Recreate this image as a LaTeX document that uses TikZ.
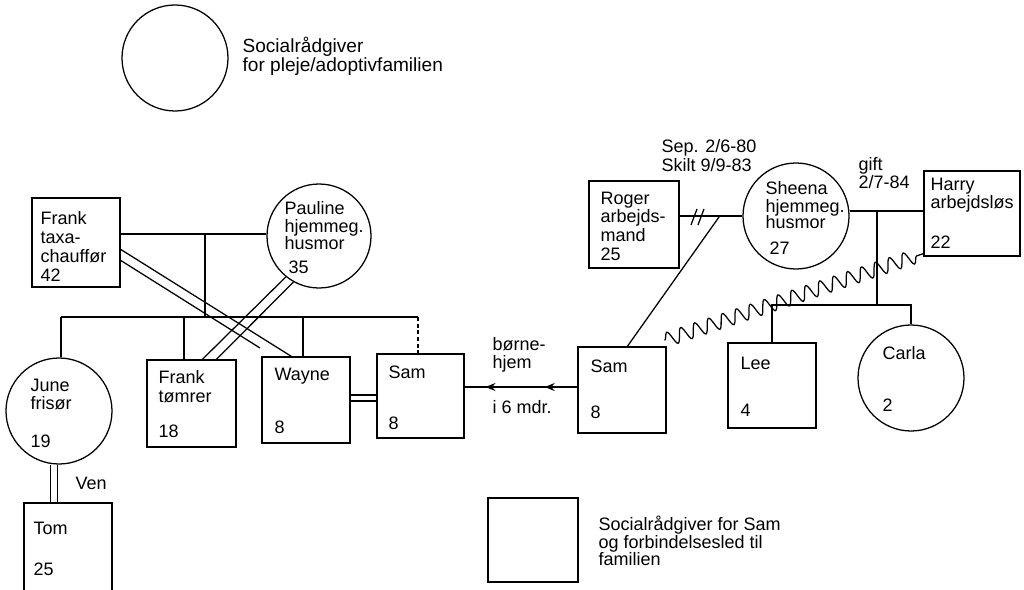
\documentclass[tikz,border=0pt]{standalone}
\usepackage{fontspec}
\setmainfont{Liberation Sans}
\usetikzlibrary{calc,fit,arrows.meta,decorations.pathmorphing,decorations.markings}
\begin{document}
\begin{tikzpicture}[x=0.75pt,y=-0.75pt, line width=0.95pt,
  box/.style={draw, rectangle, inner sep=0pt},
  circ/.style={draw, circle, inner sep=0pt, minimum size=#1*1.5pt},
  lbl/.style={inner sep=0pt, anchor=base west, font=\fontsize{13.5}{16}\selectfont},
  biglbl/.style={lbl, font=\fontsize{14.3}{17}\selectfont},
  dbl/.style={double, double distance=#1},
  wave/.style={decorate, decoration={snake, segment length=11pt, amplitude=5.3pt}},
  twoarrows/.style={postaction={decorate}, decoration={markings,
     mark=at position 0.29 with {\arrow{Stealth[length=7.5pt,width=6pt,inset=2.5pt]}},
     mark=at position 0.815 with {\arrow{Stealth[length=7.5pt,width=6pt,inset=2.5pt]}}}}]
\useasboundingbox (0,0) rectangle (1024,589);

% legend top
\node[circ=53] (socA) at (175,58) {};
\node[biglbl] (socAt1) at (242,52) {Socialrådgiver};
\node[biglbl] (socAt2) at (242,71) {for pleje/adoptivfamilien};

% persons
\node[box, fit={(32,198) (120,287)}] (frank) {};
\node[circ=52] (pauline) at (319,236) {};
\node[circ=53] (june) at (59,411) {};
\node[box, fit={(147,360) (236,447)}] (ftom) {};
\node[box, fit={(262,357) (350,443)}] (wayne) {};
\node[box, fit={(377,354) (464,438)}] (samL) {};
\node[box, fit={(24,503) (112,600)}] (tom) {};
\node[box, fit={(578,347) (666,433)}] (samR) {};
\node[box, fit={(728,343) (816,428)}] (lee) {};
\node[circ=53] (carla) at (911,378) {};
\node[box, fit={(589,181) (679,268)}] (roger) {};
\node[circ=53] (sheena) at (796,216) {};
\node[box, fit={(924,171) (1020,256)}] (harry) {};
\node[box, fit={(488,498) (578,582)}] (socB) {};

% texts
\node[lbl] (t1) at (40,224) {Frank};
\node[lbl] (t2) at (40,243) {taxa-};
\node[lbl] (t3) at (40,262) {chauffør};
\node[lbl] (t4) at (40,281) {42};
\node[lbl] (t5) at (284,214) {Pauline};
\node[lbl] (t6) at (284,232) {hjemmeg.};
\node[lbl] (t7) at (284,249) {husmor};
\node[lbl] (t8) at (288,273) {35};
\node[lbl] (t9) at (30,391) {June};
\node[lbl] (t10) at (30,409) {frisør};
\node[lbl] (t11) at (30,447) {19};
\node[lbl] (t12) at (158,383) {Frank};
\node[lbl] (t13) at (158,402) {tømrer};
\node[lbl] (t14) at (158,437) {18};
\node[lbl] (t15) at (274,380) {Wayne};
\node[lbl] (t16) at (274,433) {8};
\node[lbl] (t17) at (388,378) {Sam};
\node[lbl] (t18) at (388,429) {8};
\node[lbl] (t19) at (33,534) {Tom};
\node[lbl] (t20) at (33,575) {25};
\node[lbl] (t21) at (75,489) {Ven};
\node[lbl] (t22) at (492,350) {børne-};
\node[lbl] (t23) at (492,368) {hjem};
\node[lbl] (t24) at (492,413) {i 6 mdr.};
\node[lbl] (t25) at (590,372) {Sam};
\node[lbl] (t26) at (590,418) {8};
\node[lbl] (t27) at (740,369) {Lee};
\node[lbl] (t28) at (740,416) {4};
\node[lbl] (t29) at (882,359) {Carla};
\node[lbl] (t30) at (882,411) {2};
\node[lbl] (t31) at (600,204) {Roger};
\node[lbl] (t32) at (600,222) {arbejds-};
\node[lbl] (t33) at (600,241) {mand};
\node[lbl] (t34) at (600,260) {25};
\node[lbl] (t35) at (661,152) {Sep. 2/6-80};
\node[lbl] (t36) at (661,171) {Skilt 9/9-83};
\node[lbl] (t37) at (765,194) {Sheena};
\node[lbl] (t38) at (765,212) {hjemmeg.};
\node[lbl] (t39) at (765,228) {husmor};
\node[lbl] (t40) at (769,254) {27};
\node[lbl] (t41) at (858,170) {gift};
\node[lbl] (t42) at (858,188) {2/7-84};
\node[lbl] (t43) at (930,190) {Harry};
\node[lbl] (t44) at (930,208) {arbejdsløs};
\node[lbl] (t45) at (930,248) {22};
\node[lbl] (t46) at (598,530) {Socialrådgiver for Sam};
\node[lbl] (t47) at (598,548) {og forbindelsesled til};
\node[lbl] (t48) at (598,565) {familien};

% left family
\coordinate (fpC) at (205,234);
\coordinate (sibL) at (61,317);
\coordinate (sibF) at (184,317);
\coordinate (sibW) at (303,317);
\coordinate (sibR) at (418,317);
\draw (frank.east |- fpC) -- (pauline.west |- fpC);
\draw (fpC) -- (fpC |- sibL);
\draw (sibL) -- (sibR);
\draw (sibL) -- (sibL |- june.north);
\draw (sibF) -- (sibF |- ftom.north);
\draw (sibW) -- (sibW |- wayne.north);
\draw[dash pattern=on 3pt off 2pt] (sibR) -- (sibR |- samL.north);

% Frank -> Wayne (pair)
\coordinate (fwB) at (260,348);
\draw ($(frank.north east)+(0,52)$) -- ($(wayne.north west)+(30,0)$);
\draw ($(frank.north east)+(0,63)$) -- (fwB);
% Pauline -> Frank tomrer (pair)
\draw (pauline.231) -- ($(ftom.north west)+(56,0)$);
\draw (pauline.241) -- ($(ftom.north west)+(70,0)$);

% June - Tom
\coordinate (jt) at ($(june.south)+(-5,0)$);
\draw[dbl=4.3pt] (jt) -- (jt |- tom.north);
% Wayne - Sam
\coordinate (ws) at (350,398);
\draw[dbl=3.6pt] (wayne.east |- ws) -- (samL.west |- ws);

% arrow
\coordinate (ar) at (0,387);
\draw[twoarrows] (samR.west |- ar) -- (samL.east |- ar);

% right family
\coordinate (rsJ) at (719,217);
\coordinate (sl1) at (694,217);
\coordinate (sl2) at (701,217);
\draw (roger.east |- sheena.west) -- (sheena.west);
\draw ($(sl1)+(-3,8)$) -- ($(sl1)+(3,-8)$);
\draw ($(sl2)+(-3,8)$) -- ($(sl2)+(3,-8)$);
\draw ($(samR.north west)+(50,0)$) -- (rsJ);

\coordinate (shH) at (877,211);
\coordinate (kid) at (877,305);
\draw (sheena.east |- shH) -- (harry.west |- shH);
\draw (shH) -- (kid);
\draw (lee.north) -- (lee.north |- kid) -- (carla.north |- kid) -- (carla.north);

\draw[wave] ($(samR.north east)+(-2,-6)$) -- ($(harry.south west)+(0,-3)$);
\end{tikzpicture}
\end{document}
